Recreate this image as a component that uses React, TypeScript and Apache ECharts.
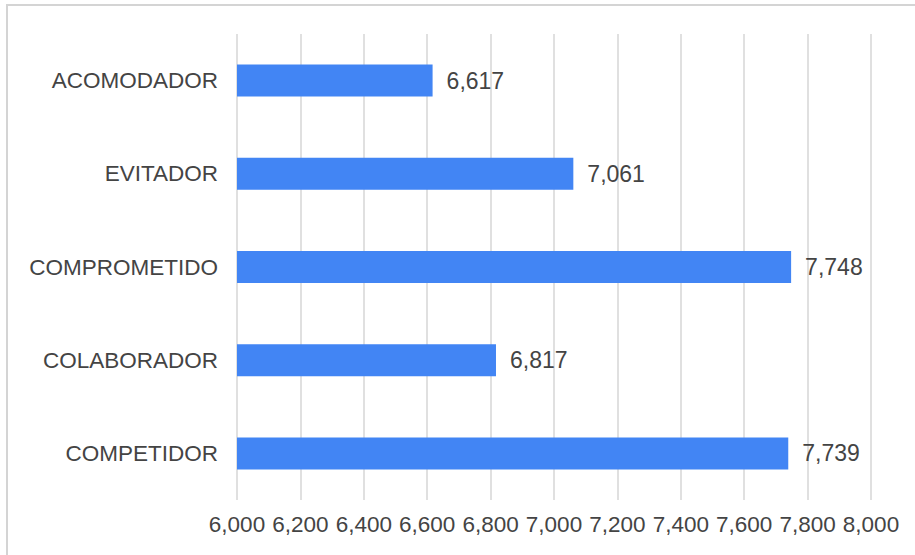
import React, { useEffect, useRef } from "react";
import * as echarts from "echarts";

const categories = ["ACOMODADOR", "EVITADOR", "COMPROMETIDO", "COLABORADOR", "COMPETIDOR"];
const values = [6617, 7061, 7748, 6817, 7739];
const axisMin = 6000;
const axisMax = 8000;
const axisStep = 200;

const fmt = (v: number) => Number(v).toLocaleString("en-US");

export default function App() {
  const ref = useRef<HTMLDivElement>(null);
  useEffect(() => {
    if (!ref.current) return;
    const chart = echarts.init(ref.current, undefined, { renderer: "svg" });
    chart.setOption({
      animation: false,
      backgroundColor: "#ffffff",
      textStyle: { fontFamily: "Liberation Sans, Arial, sans-serif" },
      grid: { left: 237, right: 44, top: 34, bottom: 55, containLabel: false },
      graphic: [
        {
          type: "rect",
          shape: { x: 7, y: 5, width: 1000, height: 1000 },
          style: { fill: "none", stroke: "#d4d4d4", lineWidth: 2 },
          silent: true,
        },
      ],
      xAxis: {
        type: "value",
        min: axisMin,
        max: axisMax,
        interval: axisStep,
        axisLine: { show: false },
        axisTick: { show: false },
        splitLine: { show: true, lineStyle: { color: "#d6d6d6", width: 1.5 } },
        axisLabel: {
          formatter: (v: number) => fmt(v),
          color: "#444444",
          fontSize: 22.5,
          margin: 13,
        },
      },
      yAxis: {
        type: "category",
        data: categories,
        inverse: true,
        axisLine: { show: false },
        axisTick: { show: false },
        splitLine: { show: false },
        axisLabel: { color: "#444444", fontSize: 22.5, margin: 19 },
      },
      series: [
        {
          type: "bar",
          data: values,
          barWidth: 32,
          itemStyle: { color: "#4285F4" },
          label: {
            show: true,
            position: "right",
            distance: 14,
            color: "#444444",
            fontSize: 23,
            formatter: (p: any) => fmt(p.value),
          },
        },
      ],
    });
    return () => chart.dispose();
  }, []);
  return (
    <div
      ref={ref}
      style={{ position: "absolute", left: 0, top: 0, width: 915, height: 555 }}
    />
  );
}
